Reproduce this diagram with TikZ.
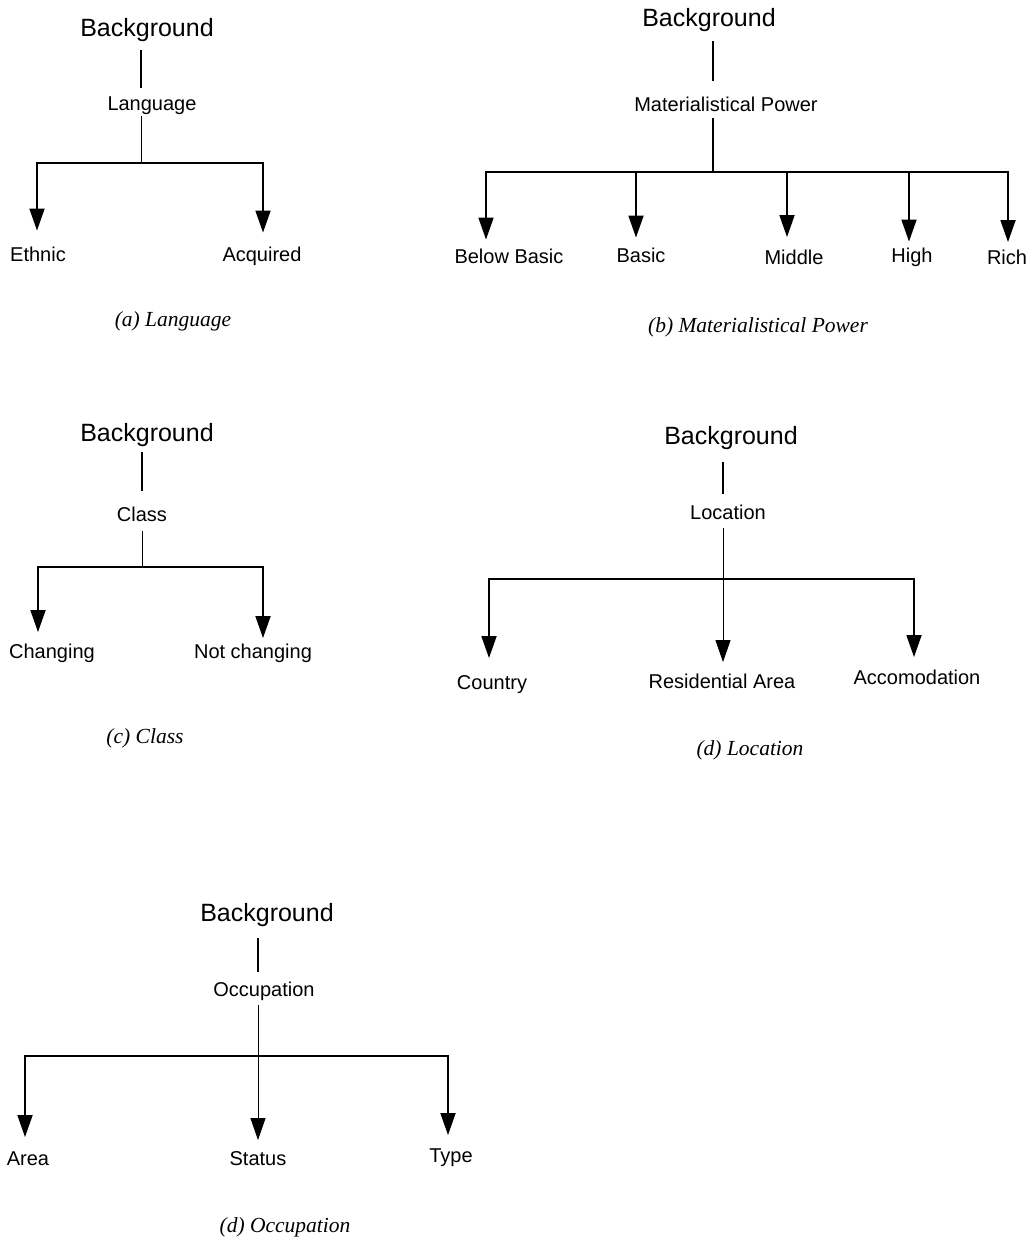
\documentclass[tikz,border=0pt]{standalone}
\usepackage{fontspec}
\setmainfont{Liberation Serif}
\setsansfont{Liberation Sans}
\usetikzlibrary{arrows.meta,calc}
\begin{document}
\begin{tikzpicture}[x=1pt,y=-1pt,
  root/.style={font=\sffamily\fontsize{25}{30}\selectfont, inner sep=0pt, text height=18pt, text depth=5pt},
  leaf/.style={font=\sffamily\fontsize{20}{24}\selectfont, inner sep=0pt, text height=14.5pt, text depth=4pt},
  caption/.style={font=\rmfamily\itshape\fontsize{21.5}{25}\selectfont, inner sep=0pt},
  stem/.style={line width=1.5pt},
  riser/.style={line width=0.9pt},
  down/.style={line width=1.8pt, -{Triangle[length=22pt,width=15pt]}},
  thindown/.style={line width=0.9pt, -{Triangle[length=22pt,width=15pt]}},
]
\useasboundingbox (0,0) rectangle (1032,1239);

% ---------------- (a) Language ----------------
\node[root] (bgA) at (147,30) {Background};
\node[leaf] (lnA) at (152,105) {Language};
\node[leaf] (ethA) at (38,256) {Ethnic};
\node[leaf] (acqA) at (262,256) {Acquired};
\coordinate (jA) at (141,163);
\coordinate (fA1) at (37,163);
\coordinate (fA2) at (263,163);
\draw[stem] ($(bgA.south -| jA)+(0,8.5)$) -- ($(lnA.north -| jA)+(0,-8)$);
\draw[riser] ($(lnA.south -| jA)+(0,2)$) -- (jA);
\draw[down] (jA) -| ($(fA1 |- ethA.north)+(0,-16)$);
\draw[down] (jA) -| ($(fA2 |- acqA.north)+(0,-14)$);
\node[caption] (capA) at (173,321) {(a) Language};

% ---------------- (b) Materialistical Power ----------------
\node[root] (bgB) at (709,20) {Background};
\node[leaf] (mpB) at (726,106) {Materialistical Power};
\node[leaf] (bbB) at (509,258) {Below Basic};
\node[leaf] (baB) at (641,257) {Basic};
\node[leaf] (miB) at (794,259) {Middle};
\node[leaf] (hiB) at (912,257) {High};
\node[leaf] (riB) at (1007,259) {Rich};
\coordinate (jB) at (713,172);
\coordinate (fB1) at (486,172);
\coordinate (fB2) at (636,172);
\coordinate (fB3) at (787,172);
\coordinate (fB4) at (909,172);
\coordinate (fB5) at (1008,172);
\draw[stem] ($(bgB.south -| jB)+(0,9.5)$) -- ($(mpB.north -| jB)+(0,-16)$);
\draw[stem] ($(mpB.south -| jB)+(0,3)$) -- (jB);
\draw[down] (jB) -| ($(fB1 |- bbB.north)+(0,-9)$);
\draw[down] (jB) -| ($(fB2 |- baB.north)+(0,-10)$);
\draw[down] (jB) -| ($(fB3 |- miB.north)+(0,-12.5)$);
\draw[down] (jB) -| ($(fB4 |- hiB.north)+(0,-6)$);
\draw[down] (jB) -| ($(fB5 |- riB.north)+(0,-7.5)$);
\node[caption] (capB) at (758,327) {(b) Materialistical Power};

% ---------------- (c) Class ----------------
\node[root] (bgC) at (147,435) {Background};
\node[leaf] (clC) at (142,516) {Class};
\node[leaf] (chC) at (52,653) {Changing};
\node[leaf] (ncC) at (253,653) {Not changing};
\coordinate (jC) at (142,567);
\coordinate (fC1) at (38,567);
\coordinate (fC2) at (263,567);
\draw[stem] ($(bgC.south -| jC)+(0,5.5)$) -- ($(clC.north -| jC)+(0,-16)$);
\draw[riser] ($(clC.south -| jC)+(0,5.5)$) -- (jC);
\draw[down] (jC) -| ($(fC1 |- chC.north)+(0,-11.5)$);
\draw[down] (jC) -| ($(fC2 |- ncC.north)+(0,-5.5)$);
\node[caption] (capC) at (145,738) {(c) Class};

% ---------------- (d) Location ----------------
\node[root] (bgD) at (731,438) {Background};
\node[leaf] (loD) at (728,514) {Location};
\node[leaf] (coD) at (492,684) {Country};
\node[leaf] (reD) at (722,683) {Residential Area};
\node[leaf] (acD) at (917,679) {Accomodation};
\coordinate (jD) at (723,579);
\coordinate (fD1) at (489,579);
\coordinate (fD3) at (914,579);
\draw[stem] ($(bgD.south -| jD)+(0,12)$) -- ($(loD.north -| jD)+(0,-10.5)$);
\draw[thindown] ($(loD.south -| jD)+(0,4.5)$) -- ($(jD |- reD.north)+(0,-11.5)$);
\draw[down] (jD) -| ($(fD1 |- coD.north)+(0,-16.5)$);
\draw[down] (jD) -| ($(fD3 |- acD.north)+(0,-12.5)$);
\node[caption] (capD) at (750,750) {(d) Location};

% ---------------- (d) Occupation ----------------
\node[root] (bgE) at (267,915) {Background};
\node[leaf] (ocE) at (264,991) {Occupation};
\node[leaf] (arE) at (28,1160) {Area};
\node[leaf] (stE) at (258,1160) {Status};
\node[leaf] (tyE) at (451,1157) {Type};
\coordinate (jE) at (258,1056);
\coordinate (fE1) at (25,1056);
\coordinate (fE3) at (448,1056);
\draw[stem] ($(bgE.south -| jE)+(0,11.5)$) -- ($(ocE.north -| jE)+(0,-9.5)$);
\draw[thindown] ($(ocE.south -| jE)+(0,4.5)$) -- ($(jE |- stE.north)+(0,-10.5)$);
\draw[down] (jE) -| ($(fE1 |- arE.north)+(0,-13.5)$);
\draw[down] (jE) -| ($(fE3 |- tyE.north)+(0,-12.5)$);
\node[caption] (capE) at (285,1227) {(d) Occupation};

\end{tikzpicture}
\end{document}
